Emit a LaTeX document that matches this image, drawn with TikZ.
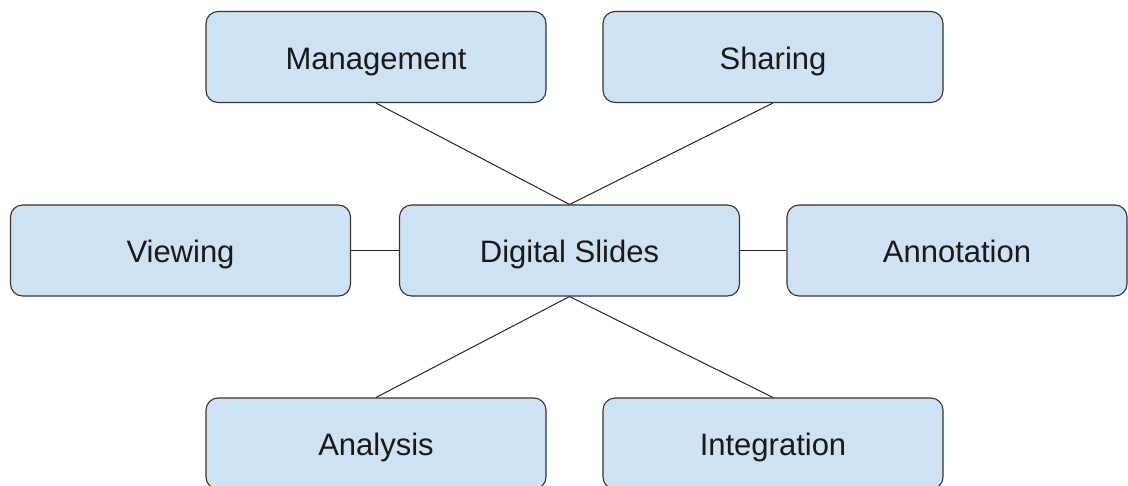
\documentclass[tikz,border=0pt]{standalone}
\usepackage{fontspec}
\setmainfont{Liberation Sans}
\begin{document}
\begin{tikzpicture}[x=1pt,y=-1pt,
  box/.style={draw=black!80,line width=1.1pt,fill=boxblue,rounded corners=12pt,
    minimum width=340pt,minimum height=91pt,inner sep=0pt,text height=24pt,text depth=0pt,
    text=black!90,font=\fontsize{31}{35}\selectfont},
  link/.style={draw=black!85,line width=1pt}]
\definecolor{boxblue}{HTML}{CFE2F3}
\useasboundingbox (0,0) rectangle (1128,485);
\node[box] (mgmt) at (376,57) {Management};
\node[box] (share) at (773,57) {Sharing};
\node[box] (view) at (180.5,250.5) {Viewing};
\node[box] (ds) at (569.5,250.5) {Digital Slides};
\node[box] (anno) at (957,250.5) {Annotation};
\node[box] (ana) at (376,443.5) {Analysis};
\node[box] (integ) at (773,443.5) {Integration};
\draw[link] (mgmt.south) -- (ds.north);
\draw[link] (share.south) -- (ds.north);
\draw[link] (view.east) -- (ds.west);
\draw[link] (ds.east) -- (anno.west);
\draw[link] (ds.south) -- (ana.north);
\draw[link] (ds.south) -- (integ.north);
\end{tikzpicture}
\end{document}
